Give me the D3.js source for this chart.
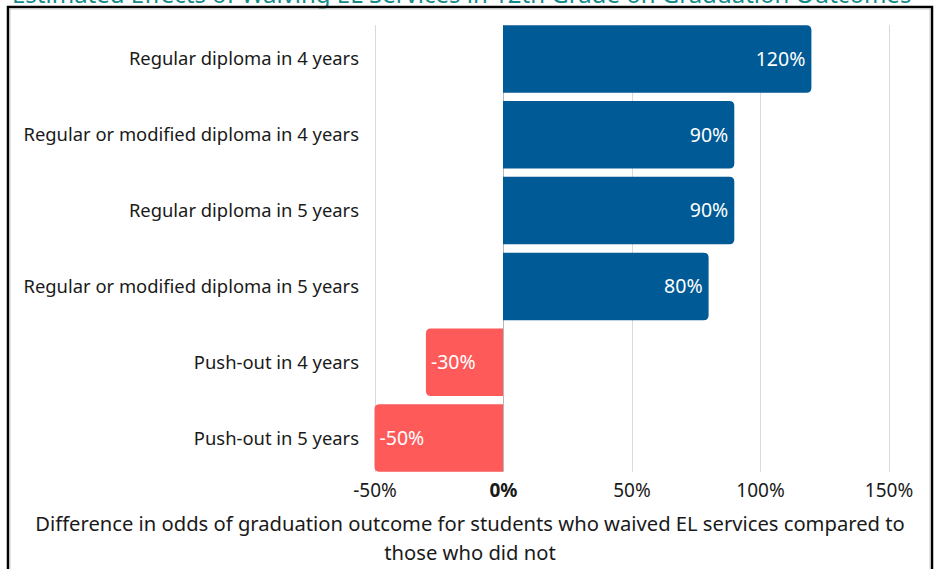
<!DOCTYPE html>
<html>
<head>
<meta charset="utf-8">
<script src="https://cdn.jsdelivr.net/npm/d3@7"></script>
<style>
  html, body { margin: 0; padding: 0; background: #fff; }
  svg { display: block; font-family: "Noto Sans", sans-serif; }
</style>
</head>
<body>
<div id="chart"></div>
<script>
const categories = [
  'Regular diploma in 4 years',
  'Regular or modified diploma in 4 years',
  'Regular diploma in 5 years',
  'Regular or modified diploma in 5 years',
  'Push-out in 4 years',
  'Push-out in 5 years'
];
const values = [120, 90, 90, 80, -30, -50];
const tickValues = [-50, 0, 50, 100, 150];
const titleText = 'Estimated Effects of Waiving EL Services in 12th Grade on Graduation Outcomes';
const axisTitle = [
  'Difference in odds of graduation outcome for students who waived EL services compared to',
  'those who did not'
];

const width = 935;
const height = 569;
const textColor = '#1a1a1a';

const svg = d3.select('#chart')
  .append('svg')
  .attr('width', width)
  .attr('height', height);

// title, mostly cut off at the top (as in the original)
svg.append('text')
  .attr('x', 12)
  .attr('y', 3)
  .attr('font-size', 24)
  .attr('fill', '#138a8a')
  .text(titleText);

// frame
svg.append('rect')
  .attr('x', 8)
  .attr('y', 7)
  .attr('width', 924)
  .attr('height', 600)
  .attr('fill', 'none')
  .attr('stroke', '#000')
  .attr('stroke-width', 2.5);
svg.append('rect')
  .attr('x', 10)
  .attr('y', 9)
  .attr('width', 920)
  .attr('height', 600)
  .attr('fill', 'none')
  .attr('stroke', '#c8c8c8')
  .attr('stroke-width', 1);

const x = d3.scaleLinear()
  .domain([-50, 150])
  .range([374.5, 888.5]);

const y = d3.scaleBand()
  .domain(categories)
  .range([21, 476])
  .paddingInner(0.11)
  .paddingOuter(0.055);

const gridTop = y(categories[0]);
const gridBottom = y(categories[categories.length - 1]) + y.bandwidth();

svg.append('g')
  .selectAll('line')
  .data(tickValues)
  .join('line')
  .attr('x1', (d) => Math.round(x(d)) + 0.5)
  .attr('x2', (d) => Math.round(x(d)) + 0.5)
  .attr('y1', gridTop)
  .attr('y2', gridBottom)
  .attr('stroke', (d) => (d === 0 ? '#b8b8b8' : '#d9d9d9'))
  .attr('stroke-width', 1);

// bar shape, rounded only at the outer end
const barPath = (x0, x1, top, h, r) => {
  const s = x1 >= x0 ? 1 : -1;
  return 'M' + x0 + ',' + top +
    'H' + (x1 - s * r) +
    'Q' + x1 + ',' + top + ' ' + x1 + ',' + (top + r) +
    'V' + (top + h - r) +
    'Q' + x1 + ',' + (top + h) + ' ' + (x1 - s * r) + ',' + (top + h) +
    'H' + x0 + 'Z';
};

const rows = categories.map((c, i) => ({ name: c, value: values[i] }));

svg.append('g')
  .selectAll('path')
  .data(rows)
  .join('path')
  .attr('d', (d) => barPath(x(0), x(d.value), y(d.name), y.bandwidth(), 5))
  .attr('fill', (d) => (d.value >= 0 ? '#005a96' : '#ff5a5a'));

svg.append('g')
  .selectAll('text')
  .data(rows)
  .join('text')
  .attr('x', (d) => (d.value >= 0 ? x(d.value) - 6 : x(d.value) + 5))
  .attr('y', (d) => y(d.name) + y.bandwidth() / 2)
  .attr('dy', '0.35em')
  .attr('text-anchor', (d) => (d.value >= 0 ? 'end' : 'start'))
  .attr('font-size', 19.5)
  .attr('fill', '#fff')
  .text((d) => d.value + '%');

// category labels
svg.append('g')
  .selectAll('text')
  .data(categories)
  .join('text')
  .attr('x', 359)
  .attr('y', (d) => y(d) + y.bandwidth() / 2)
  .attr('dy', '0.35em')
  .attr('text-anchor', 'end')
  .attr('font-size', 18.4)
  .attr('fill', textColor)
  .text((d) => d);

// x axis
const xAxis = svg.append('g')
  .attr('transform', 'translate(0,' + 476 + ')')
  .call(d3.axisBottom(x).tickValues(tickValues).tickSize(0).tickPadding(8)
    .tickFormat((d) => d + '%'));
xAxis.select('.domain').remove();
xAxis.selectAll('text')
  .attr('font-family', '"Noto Sans", sans-serif')
  .attr('font-size', 19)
  .attr('fill', textColor)
  .attr('font-weight', (d) => (d === 0 ? 700 : 400));

svg.append('g')
  .selectAll('text')
  .data(axisTitle)
  .join('text')
  .attr('x', 470)
  .attr('y', (d, i) => 531 + i * 29)
  .attr('text-anchor', 'middle')
  .attr('font-size', 20.2)
  .attr('fill', textColor)
  .text((d) => d);
</script>
</body>
</html>
